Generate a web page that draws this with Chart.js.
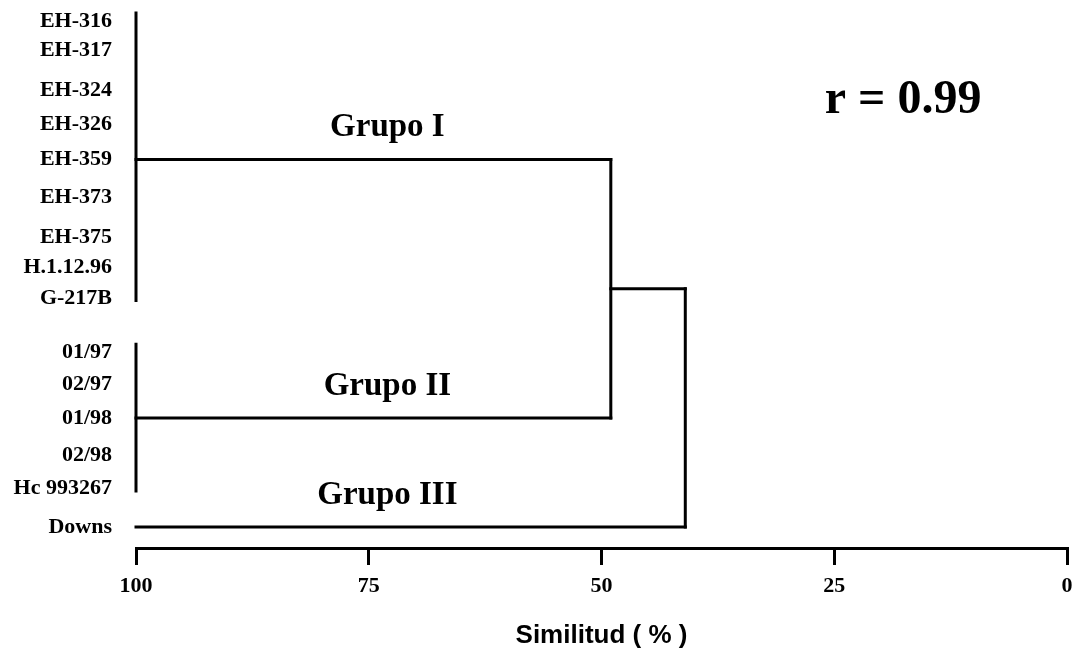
<!DOCTYPE html>
<html>
<head>
<meta charset="utf-8">
<script src="https://cdn.jsdelivr.net/npm/chart.js@4.4.1/dist/chart.umd.min.js"></script>
<style>
  html, body { margin: 0; padding: 0; background: #fff; }
  #wrap { width: 1074px; height: 649px; }
</style>
</head>
<body>
<div id="wrap"><canvas id="dendro" width="1074" height="649"></canvas></div>
<script>
// leaves of the dendrogram, top to bottom, and their row position
const leaves = ['EH-316', 'EH-317', 'EH-324', 'EH-326', 'EH-359', 'EH-373', 'EH-375', 'H.1.12.96', 'G-217B',
                '01/97', '02/97', '01/98', '02/98', 'Hc 993267', 'Downs'];
const leafRows = [0, 0.84, 1.99, 3.0, 4.0, 5.09, 6.24, 7.11, 8.0, 9.57, 10.5, 11.47, 12.54, 13.5, 14.62];

const groupNames = ['Grupo I', 'Grupo II', 'Grupo III'];
const groupMembers = [[0, 1, 2, 3, 4, 5, 6, 7, 8], [9, 10, 11, 12, 13], [14]];
const groupSimilarity = [100, 100, 100];
const joinSimilarity = [49, 41]; // I+II, then (I+II)+III
const xTicks = [100, 75, 50, 25, 0];
const corrLabel = 'r = 0.99';

const serif = '"Liberation Serif", "Times New Roman", serif';
const sans = '"Liberation Sans", Arial, sans-serif';

function seg(x1, y1, x2, y2) {
  return [{ x: x1, y: y1 }, { x: x2, y: y2 }];
}

// branch comes out of the middle member of each group
const branchRows = groupMembers.map(m => leafRows[m[Math.floor(m.length / 2)]]);
const join1Row = (branchRows[0] + branchRows[1]) / 2;

const segments = [];
groupMembers.forEach((m, i) => {
  if (m.length > 1) {
    segments.push(seg(groupSimilarity[i], leafRows[m[0]] - 0.23, groupSimilarity[i], leafRows[m[m.length - 1]] + 0.08));
  }
});
segments.push(seg(groupSimilarity[0], branchRows[0], joinSimilarity[0], branchRows[0]));
segments.push(seg(groupSimilarity[1], branchRows[1], joinSimilarity[0], branchRows[1]));
segments.push(seg(joinSimilarity[0], branchRows[0], joinSimilarity[0], branchRows[1]));
segments.push(seg(joinSimilarity[0], join1Row, joinSimilarity[1], join1Row));
segments.push(seg(groupSimilarity[2], branchRows[2], joinSimilarity[1], branchRows[2]));
segments.push(seg(joinSimilarity[1], join1Row, joinSimilarity[1], branchRows[2]));

const textPlugin = {
  id: 'dendroText',
  afterDraw(chart) {
    const { ctx, scales: { x, y } } = chart;
    ctx.save();
    ctx.fillStyle = '#000';
    ctx.textAlign = 'center';
    ctx.textBaseline = 'alphabetic';
    ctx.font = 'bold 33px ' + serif;
    groupNames.forEach((name, i) => {
      ctx.fillText(name, x.getPixelForValue(73), y.getPixelForValue(branchRows[i]) - 23);
    });
    ctx.font = 'bold 48px ' + serif;
    ctx.fillText(corrLabel, x.getPixelForValue(17.6), y.getPixelForValue(2.66));
    ctx.restore();
  }
};

new Chart(document.getElementById('dendro'), {
  type: 'scatter',
  data: {
    datasets: segments.map(s => ({
      data: s,
      showLine: true,
      borderColor: '#000',
      borderWidth: 3,
      borderCapStyle: 'square',
      pointRadius: 0,
      clip: false
    }))
  },
  options: {
    responsive: false,
    animation: false,
    devicePixelRatio: 1,
    layout: { padding: { left: 0, right: 7, top: 0, bottom: 0 } },
    plugins: { legend: { display: false }, tooltip: { enabled: false } },
    scales: {
      x: {
        type: 'linear',
        position: 'bottom',
        reverse: true,
        min: 0,
        max: 100,
        afterBuildTicks: s => { s.ticks = xTicks.map(v => ({ value: v })); },
        afterFit: s => { s.height = 101; s.paddingLeft = 0; s.paddingRight = 0; },
        grid: { drawOnChartArea: false, drawTicks: true, tickLength: 17, lineWidth: 3, color: '#000' },
        border: { display: true, width: 3, color: '#000' },
        ticks: { color: '#000', padding: 8, maxRotation: 0, font: { family: serif, size: 22, weight: 'bold' } },
        title: {
          display: true,
          text: 'Similitud ( % )',
          color: '#000',
          font: { family: sans, size: 26, weight: 'bold', lineHeight: 1 },
          padding: { top: 0, bottom: 0 }
        }
      },
      y: {
        type: 'linear',
        reverse: true,
        min: -0.607,
        max: 15.23,
        afterBuildTicks: s => { s.ticks = leafRows.map(v => ({ value: v })); },
        afterFit: s => { s.width = 136; s.paddingTop = 0; s.paddingBottom = 0; },
        grid: { display: false, drawTicks: false },
        border: { display: false },
        ticks: {
          autoSkip: false,
          padding: 24,
          color: '#000',
          font: { family: serif, size: 22, weight: 'bold' },
          callback: (v, i) => leaves[i]
        }
      }
    }
  },
  plugins: [textPlugin]
});
</script>
</body>
</html>
